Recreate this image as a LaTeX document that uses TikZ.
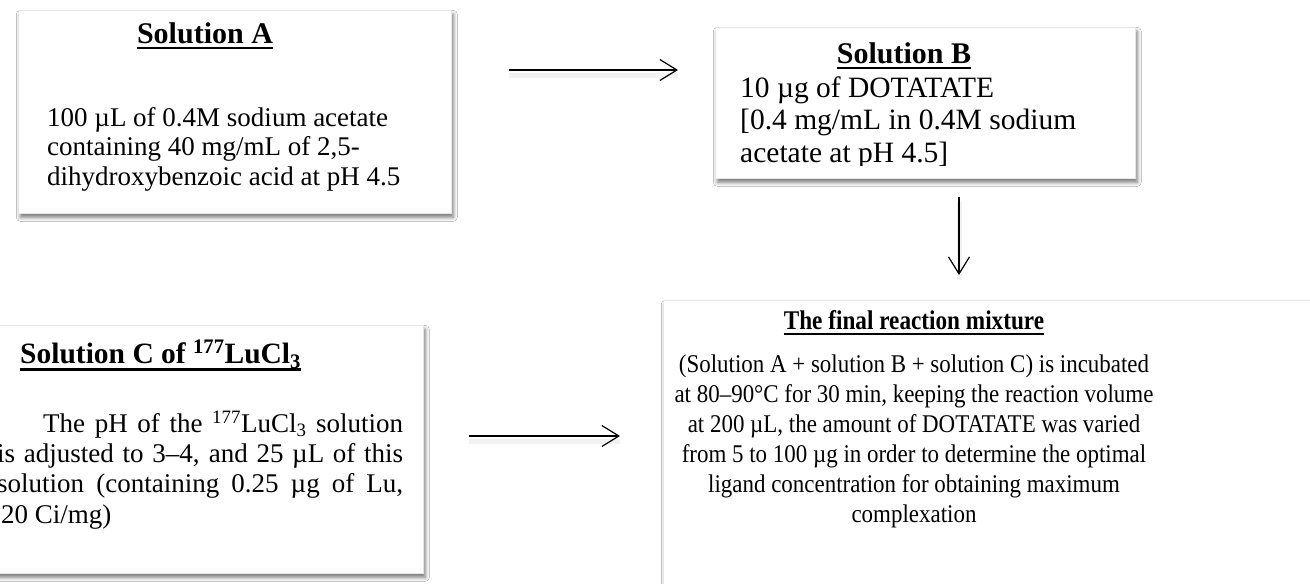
\documentclass[tikz,border=0pt]{standalone}
\usepackage{fontspec}
\setmainfont{Liberation Serif}
\newfontfamily\condtitle[FakeStretch=0.86]{Liberation Serif}
\newfontfamily\condbody[FakeStretch=0.9]{Liberation Serif}
\usetikzlibrary{arrows.meta,shadows.blur}
\tikzset{
  box/.style={rectangle, fill=white, draw=black!10, line width=0.6pt, inner sep=0pt,
    anchor=north west,
    blur shadow={shadow xshift=2pt, shadow yshift=-4pt, shadow blur radius=4pt, shadow opacity=55}},
  ttl/.style={inner sep=0pt, anchor=base, font={\fontsize{30pt}{30pt}\selectfont\bfseries}},
  txt/.style={inner sep=0pt, anchor=base west, align=left},
  uline/.style={line width=2.4pt},
  arr/.style={-{Straight Barb[length=17pt,width=21pt,line width=1.2pt]}, line width=1.2pt,
    preaction={draw=black!5, line width=5pt, -, transform canvas={yshift=-5pt}}},
}
\begin{document}
\begin{tikzpicture}[x=1pt,y=-1pt]
\useasboundingbox[fill=white] (0,0) rectangle (1310,584);

% boxes
\node[box, minimum width=433pt, minimum height=203pt] (A) at (18,10) {};
\node[box, minimum width=420pt, minimum height=151pt] (B) at (715,27) {};
\node[box, minimum width=443pt, minimum height=248pt] (C) at (-20,325) {};
\node[box, minimum width=700pt, minimum height=320pt] (F) at (663,300) {};

% Solution A  (base of a multi-line node = baseline of its last line)
\node[ttl] (tA) at (205,43) {Solution A};
\draw[uline] ([yshift=-5.2pt]tA.base west) -- ([yshift=-5.2pt]tA.base east);
\node[txt, font={\fontsize{27pt}{29.5pt}\selectfont}] (bA) at (47,185)
  {100 µL of 0.4M sodium acetate\\ containing 40 mg/mL of 2,5-\\ dihydroxybenzoic acid at pH 4.5};

% Solution B
\node[ttl] (tB) at (904,63) {Solution B};
\draw[uline] ([yshift=-5.2pt]tB.base west) -- ([yshift=-5.2pt]tB.base east);
\begin{scope}
  \clip (715,27) rectangle (1135,165);
  \node[txt, font={\fontsize{29.5pt}{32.5pt}\selectfont}] (bB) at (740,162)
    {10 µg of DOTATATE\\ {[}0.4 mg/mL in 0.4M sodium\\ acetate at pH 4.5{]}};
\end{scope}

% Solution C
\node[ttl, anchor=base west, font={\fontsize{29.5pt}{30pt}\selectfont\bfseries}] (tC) at (20,363)
  {Solution C of \textsuperscript{177}LuCl\textsubscript{3}};
\draw[uline] ([yshift=-6.5pt]tC.base west) -- ([yshift=-6.5pt]tC.base east);
\node[txt, font={\fontsize{27pt}{30.3pt}\selectfont}] (bC) at (-3,523)
  {\makebox[406pt][s]{\hspace{46pt}The pH of the \textsuperscript{177}LuCl\textsubscript{3} solution}\\
   \makebox[406pt][s]{is adjusted to 3–4, and 25 µL of this}\\
   \makebox[406pt][s]{solution (containing 0.25 µg of Lu,}\\
   \hspace{4pt}20 Ci/mg)};

% Final mixture
\node[inner sep=0pt, anchor=base, font={\fontsize{27pt}{30pt}\condtitle\bfseries}] (tF) at (914,329)
  {The final reaction mixture};
\draw[uline] ([yshift=-4.8pt]tF.base west) -- ([yshift=-4.8pt]tF.base east);
\node[inner sep=0pt, anchor=base, align=center, font={\fontsize{25.5pt}{30pt}\condbody}] (bF) at (914,522)
  {(Solution A + solution B + solution C) is incubated\\
   at 80–90°C for 30 min, keeping the reaction volume\\
   at 200 µL, the amount of DOTATATE was varied\\
   from 5 to 100 µg in order to determine the optimal\\
   ligand concentration for obtaining maximum\\
   complexation};

% arrows
\coordinate (ab) at (0,70);
\coordinate (cf) at (0,436);
\coordinate (bf) at (959,0);
\draw[arr, shorten <=57pt, shorten >=37pt] (A.east |- ab) -- (B.west |- ab);
\draw[arr, shorten <=45pt, shorten >=43pt] (C.east |- cf) -- (F.west |- cf);
\draw[arr, shorten <=18pt, shorten >=25pt] (B.south -| bf) -- (F.north -| bf);
\end{tikzpicture}
\end{document}
